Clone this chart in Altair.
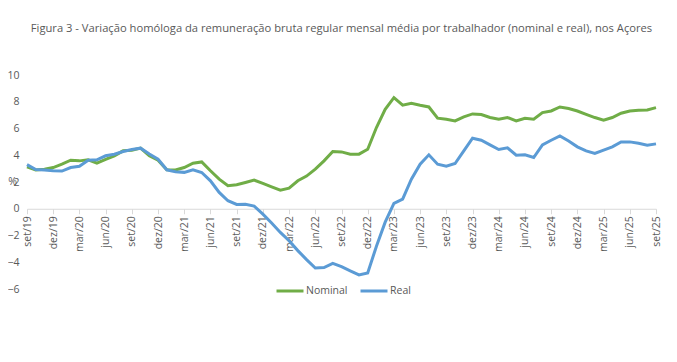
import altair as alt
import pandas as pd

# Month labels (set/19 .. set/25)
month_names = ["jan", "fev", "mar", "abr", "mai", "jun", "jul", "ago", "set", "out", "nov", "dez"]
months = []
for k in range(73):
    idx = 8 + k
    months.append(f"{month_names[idx % 12]}/{19 + idx // 12}")

tick_labels = months[::3]

nominal = [3.13, 2.90, 2.96, 3.08, 3.33, 3.63, 3.58, 3.66, 3.41, 3.70,
           3.96, 4.33, 4.38, 4.53, 3.96, 3.63, 2.91, 2.90, 3.08, 3.41,
           3.50, 2.84, 2.21, 1.72, 1.79, 1.96, 2.14, 1.89, 1.64, 1.39,
           1.54, 2.09, 2.44, 2.96, 3.58, 4.28, 4.25, 4.08, 4.08, 4.45,
           6.07, 7.44, 8.31, 7.74, 7.89, 7.74, 7.61, 6.77, 6.69, 6.57,
           6.87, 7.09, 7.04, 6.82, 6.69, 6.82, 6.57, 6.77, 6.70, 7.19,
           7.31, 7.61, 7.49, 7.31, 7.06, 6.82, 6.62, 6.82, 7.14, 7.31,
           7.36, 7.39, 7.56]

real = [3.30, 2.93, 2.90, 2.84, 2.82, 3.08, 3.18, 3.63, 3.66, 3.96,
        4.08, 4.28, 4.43, 4.53, 4.10, 3.70, 2.91, 2.76, 2.72, 2.91,
        2.71, 2.09, 1.22, 0.60, 0.32, 0.34, 0.20, -0.40, -1.07, -1.77,
        -2.39, -3.13, -3.80, -4.43, -4.40, -4.08, -4.33, -4.65, -4.95, -4.80,
        -2.80, -1.00, 0.40, 0.72, 2.21, 3.33, 4.03, 3.33, 3.18, 3.38,
        4.33, 5.27, 5.12, 4.78, 4.43, 4.55, 4.00, 4.03, 3.83, 4.78,
        5.12, 5.45, 5.07, 4.63, 4.33, 4.13, 4.38, 4.63, 5.00, 5.00,
        4.90, 4.75, 4.85]

series = ["Nominal", "Real"]
colors = ["#70AD47", "#5B9BD5"]
y_ticks = [-6, -4, -2, 0, 2, 4, 6, 8, 10]

rows = []
for i, m in enumerate(months):
    rows.append({"mes": m, "serie": "Nominal", "valor": nominal[i]})
    rows.append({"mes": m, "serie": "Real", "valor": real[i]})
df = pd.DataFrame(rows)

W, H = 629, 214
FONT = "Open Sans"
GRAY = "#595959"

chart = alt.Chart(df).mark_line(strokeWidth=3).encode(
    x=alt.X("mes:O", sort=months,
            scale=alt.Scale(type="point", padding=0),
            axis=alt.Axis(values=tick_labels, labelAngle=270, title=None,
                          offset=-H * 6 / 16, domainColor="#d9d9d9",
                          tickColor="#d9d9d9", tickSize=5, labelPadding=2,
                          grid=False, labelColor=GRAY, labelFontSize=10.5,
                          labelFont=FONT, labelOverlap=False)),
    y=alt.Y("valor:Q", scale=alt.Scale(domain=[-6, 10], nice=False, zero=False),
            axis=alt.Axis(values=y_ticks, title="%", titleAngle=0, titleX=-15,
                          titleY=106, titleAlign="center", titleBaseline="middle",
                          titleColor=GRAY, titleFont=FONT, titleFontSize=10.5,
                          titleFontWeight="normal",
                          domain=False, ticks=False, tickSize=0, labelPadding=8,
                          grid=False, labelColor=GRAY, labelFontSize=10.5,
                          labelFont=FONT)),
    color=alt.Color("serie:N",
                    scale=alt.Scale(domain=series, range=colors),
                    legend=alt.Legend(title=None, orient="none", direction="horizontal",
                                      legendX=248, legendY=201,
                                      symbolType="stroke", symbolStrokeWidth=3,
                                      symbolSize=729, labelFont=FONT, labelFontSize=10.5,
                                      labelColor=GRAY, labelOffset=1,
                                      columnPadding=6)),
).properties(
    width=W, height=H,
    autosize="none",
    padding={"left": 19, "top": 67, "right": 12, "bottom": 40},
    title=alt.TitleParams(
        "Figura 3 - Variação homóloga da remuneração bruta regular mensal média por trabalhador (nominal e real), nos Açores",
        font=FONT, fontSize=11.2, fontWeight="normal", color=GRAY,
        anchor="middle", offset=36),
).configure_view(stroke=None)

chart.save("out.html", embed_options={"renderer": "svg", "actions": False})
